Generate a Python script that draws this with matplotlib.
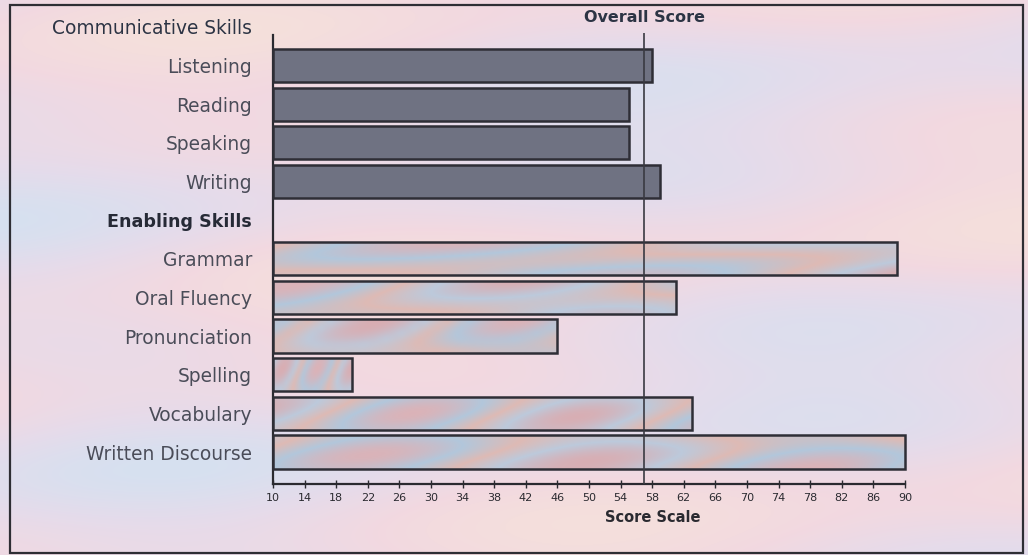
import numpy as np
import matplotlib
matplotlib.use("Agg")
import matplotlib.pyplot as plt
from matplotlib.patches import Rectangle
from matplotlib.colors import LinearSegmentedColormap
import matplotlib.transforms as mtransforms

# ---- data ----
row_labels = ["Communicative Skills", "Listening", "Reading", "Speaking", "Writing",
              "Enabling Skills", "Grammar", "Oral Fluency", "Pronunciation",
              "Spelling", "Vocabulary", "Written Discourse"]
communicative_skills = ["Listening", "Reading", "Speaking", "Writing"]
communicative_scores = [58, 55, 55, 59]
enabling_skills = ["Grammar", "Oral Fluency", "Pronunciation", "Spelling",
                   "Vocabulary", "Written Discourse"]
enabling_scores = [89, 61, 46, 20, 63, 90]
overall_score = 57
x_ticks = list(range(10, 91, 4))
x_min, x_max = 10, 90

plt.rcParams['font.family'] = ['DejaVu Sans']

fig = plt.figure(figsize=(10.28, 5.55), dpi=100)

# background (decorative pastel wash)
bg = fig.add_axes([0, 0, 1, 1], zorder=-10)
H, W = 111, 206
yy, xx = np.mgrid[0:H, 0:W]
t = (0.5 + 0.22 * np.sin(yy / 9.0 + xx / 60.0) + 0.18 * np.sin(xx / 23.0 - yy / 31.0)
     + 0.1 * np.sin(yy / 4.0 + xx / 90.0))
t = np.clip(t, 0, 1)
bg_cmap = LinearSegmentedColormap.from_list(
    "bg", [(0.84, 0.88, 0.94), (0.90, 0.86, 0.92), (0.95, 0.85, 0.88), (0.96, 0.88, 0.86)])
bg.imshow(t, cmap=bg_cmap, aspect='auto', extent=[0, 1, 0, 1], interpolation='bicubic')
bg.set_axis_off()

# main axes
ax_left = 273 / 1028
ax_right = 905 / 1028
ax_bottom = 1 - 483.5 / 555
ax_top = 1 - 7.6 / 555
ax = fig.add_axes([ax_left, ax_bottom, ax_right - ax_left, ax_top - ax_bottom])
ax.patch.set_alpha(0)

y_of = {lab: i for i, lab in enumerate(row_labels)}
bar_h = 0.86
edge = '#2e2e36'

comm_y = [y_of[s] for s in communicative_skills]
comm_bars = ax.barh(comm_y, [v - x_min for v in communicative_scores], left=x_min,
                    height=bar_h, color='#6f7282', edgecolor=edge, linewidth=1.8, zorder=3)
for b in comm_bars:
    b.set_clip_on(False)

en_y = [y_of[s] for s in enabling_skills]
en_bars = ax.barh(en_y, [v - x_min for v in enabling_scores], left=x_min, height=bar_h,
                  color='none', edgecolor=edge, linewidth=1.8, zorder=4)
for b in en_bars:
    b.set_clip_on(False)

bar_cmap = LinearSegmentedColormap.from_list(
    "barfill", [(0.85, 0.68, 0.70), (0.74, 0.79, 0.86), (0.87, 0.73, 0.71),
                (0.70, 0.78, 0.86), (0.86, 0.70, 0.72)])
for k, (bar, yv, val) in enumerate(zip(en_bars, en_y, enabling_scores)):
    gx = np.linspace(0, 1, 120)
    gy = np.linspace(0, 1, 6)
    GX, GY = np.meshgrid(gx, gy)
    g = 0.5 + 0.25 * np.sin(GX * (4 + k) + k * 1.3) + 0.15 * np.sin(GY * 3 + GX * 7 + k)
    im = ax.imshow(np.clip(g, 0, 1), cmap=bar_cmap, aspect='auto',
                   extent=[x_min, val, yv + bar_h / 2, yv - bar_h / 2],
                   interpolation='bicubic', zorder=3)
    im.set_clip_path(bar)

# overall score line
ax.vlines(overall_score, 0.16, 11.815, color='#3a3a42', linewidth=1.2, zorder=5)

ax.set_xlim(x_min, x_max)
ax.set_ylim(11.815, -0.5)

# spines
for s in ['top', 'right']:
    ax.spines[s].set_visible(False)
ax.spines['left'].set_bounds(0.21, 11.815)
ax.spines['left'].set_color('#2a2a30')
ax.spines['left'].set_linewidth(1.6)
ax.spines['bottom'].set_color('#2a2a30')
ax.spines['bottom'].set_linewidth(1.6)

ax.set_xticks(x_ticks)
ax.set_xticklabels([str(v) for v in x_ticks], fontsize=8, color='#2a2a30')
ax.tick_params(axis='x', direction='inout', length=6, width=1.0, colors='#2a2a30', pad=4)

ax.set_yticks(range(len(row_labels)))
ax.set_yticklabels(row_labels, fontsize=13.4, color='#4a4c58')
ax.tick_params(axis='y', length=0, pad=15)
for lab in ax.get_yticklabels():
    if lab.get_text() == "Communicative Skills":
        lab.set_color('#2c3444')
    elif lab.get_text() == "Enabling Skills":
        lab.set_color('#262a36')
        lab.set_fontweight('bold')
        lab.set_fontsize(12.6)

trans = mtransforms.blended_transform_factory(ax.transData, fig.transFigure)
ax.text(overall_score, 1 - 18 / 555, "Overall Score", transform=trans, ha='center',
        va='center', fontsize=11.5, fontweight='bold', color='#2c3444')
ax.text(58.1, 1 - 518 / 555, "Score Scale", transform=trans, ha='center',
        va='center', fontsize=10.5, fontweight='bold', color='#2a2a30')

# outer frame
fig.add_artist(Rectangle((10 / 1028, 1 - 553 / 555), (1023 - 10) / 1028, (553 - 5) / 555,
                         transform=fig.transFigure, fill=False, edgecolor='#2e2e34',
                         linewidth=1.6))

fig.savefig("out.png", dpi=100)
